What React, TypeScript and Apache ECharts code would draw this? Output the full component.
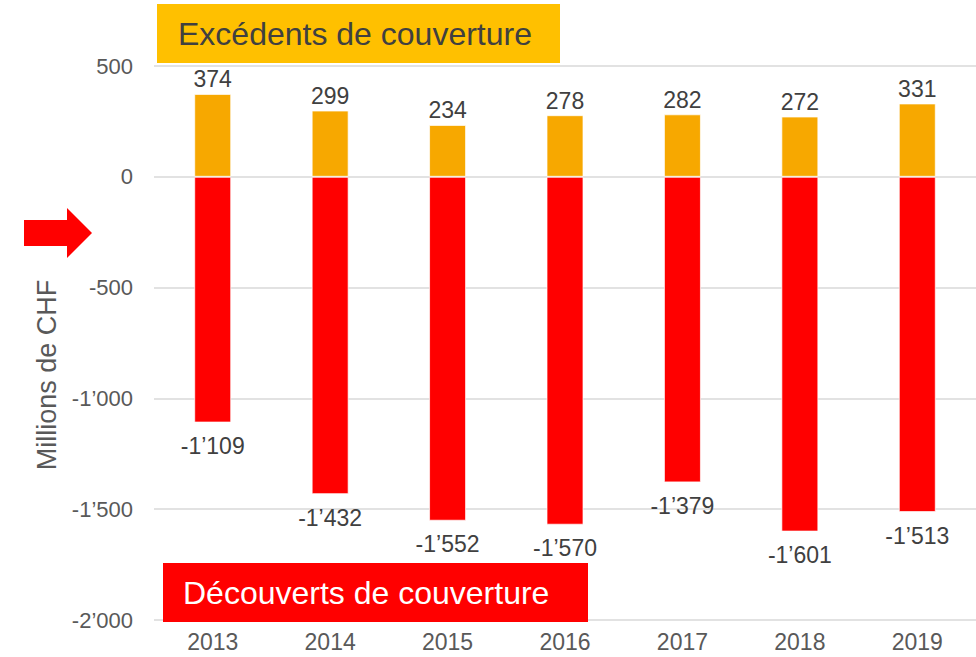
import React, { useEffect, useRef } from "react";
import * as echarts from "echarts";

const years = ["2013", "2014", "2015", "2016", "2017", "2018", "2019"];
const surplus = [374, 299, 234, 278, 282, 272, 331];
const deficit = [-1109, -1432, -1552, -1570, -1379, -1601, -1513];
const yTicks = { min: -2000, max: 500, interval: 500 };
const surplusLabel = "Excédents de couverture";
const deficitLabel = "Découverts de couverture";
const yAxisName = "Millions de CHF";

const FONT = "'Liberation Sans', Arial, sans-serif";

function fmt(v: number): string {
  const s = Math.abs(Math.round(v)).toString();
  const withSep = s.replace(/\B(?=(\d{3})+(?!\d))/g, "\u2019");
  return (v < 0 ? "-" : "") + withSep;
}

export default function App() {
  const ref = useRef<HTMLDivElement>(null);
  useEffect(() => {
    document.body.style.margin = "0";
    if (!ref.current) return;
    const chart = echarts.init(ref.current, null, { renderer: "svg" });
    chart.setOption({
      animation: false,
      backgroundColor: "#ffffff",
      grid: { left: 154, top: 66, width: 829, bottom: 37, containLabel: false },
      xAxis: {
        type: "category",
        data: years,
        axisLine: { show: false },
        axisTick: { show: false },
        axisLabel: {
          color: "#595959",
          fontSize: 23,
          fontFamily: FONT,
          margin: 10,
        },
      },
      yAxis: {
        type: "value",
        min: yTicks.min,
        max: yTicks.max,
        interval: yTicks.interval,
        axisLine: { show: false },
        axisTick: { show: false },
        splitLine: { lineStyle: { color: "#D9D9D9", width: 1.5 } },
        axisLabel: {
          color: "#595959",
          fontSize: 22,
          fontFamily: FONT,
          margin: 21,
          formatter: (v: number) => fmt(v),
        },
      },
      series: [
        {
          type: "bar",
          data: surplus,
          barWidth: 37,
          barGap: "-100%",
          itemStyle: { color: "#F7A800", borderColor: "rgba(255,255,255,0.7)", borderWidth: 1 },
          label: {
            show: true,
            position: "top",
            distance: 3,
            color: "#404040",
            fontSize: 23,
            fontFamily: FONT,
            formatter: (p: any) => fmt(p.value),
          },
        },
        {
          type: "bar",
          data: deficit,
          barWidth: 37,
          barGap: "-100%",
          itemStyle: { color: "#FF0000", borderColor: "rgba(255,255,255,0.7)", borderWidth: 1 },
          label: {
            show: true,
            position: "bottom",
            distance: 12,
            color: "#404040",
            fontSize: 23,
            fontFamily: FONT,
            formatter: (p: any) => fmt(p.value),
          },
        },
      ],
      graphic: [
        {
          type: "rect",
          shape: { x: 157, y: 4, width: 403, height: 59 },
          style: { fill: "#FFC000" },
          z: 10,
        },
        {
          type: "text",
          x: 178,
          y: 34,
          z: 11,
          style: {
            text: surplusLabel,
            fill: "#404040",
            font: `32px ${FONT}`,
            verticalAlign: "middle",
            align: "left",
          },
        },
        {
          type: "rect",
          shape: { x: 163, y: 563, width: 425, height: 59 },
          style: { fill: "#FF0000" },
          z: 10,
        },
        {
          type: "text",
          x: 183,
          y: 593,
          z: 11,
          style: {
            text: deficitLabel,
            fill: "#ffffff",
            font: `32px ${FONT}`,
            verticalAlign: "middle",
            align: "left",
          },
        },
        {
          type: "polygon",
          shape: {
            points: [
              [24, 220],
              [67, 220],
              [67, 208],
              [92, 233],
              [67, 258],
              [67, 246],
              [24, 246],
            ],
          },
          style: { fill: "#FF0000" },
          z: 10,
        },
        {
          type: "text",
          x: 47,
          y: 375,
          rotation: Math.PI / 2,
          z: 11,
          style: {
            text: yAxisName,
            fill: "#595959",
            font: `27px ${FONT}`,
            align: "center",
            verticalAlign: "middle",
          },
        },
      ],
    });
    return () => chart.dispose();
  }, []);
  return <div ref={ref} style={{ width: 976, height: 657 }} />;
}
